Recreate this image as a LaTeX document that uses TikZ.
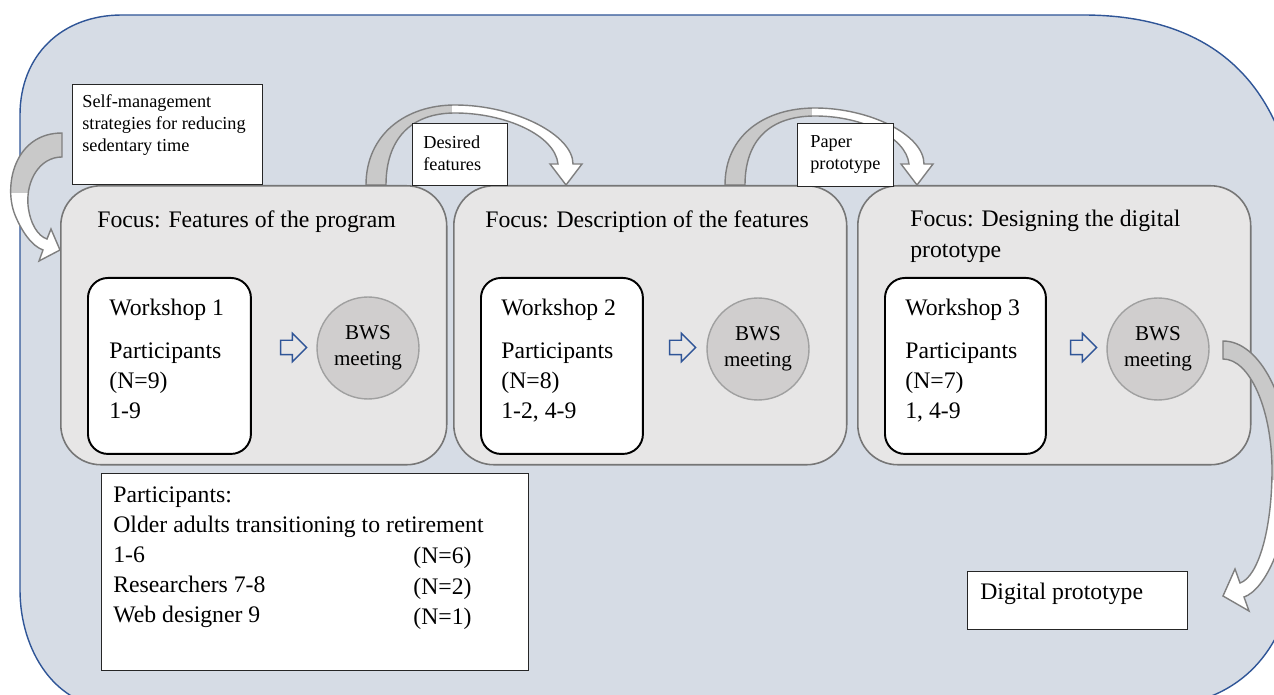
\documentclass[tikz,border=0pt]{standalone}
\usepackage{fontspec}
\setmainfont{Liberation Serif}
\usetikzlibrary{positioning}
\usetikzlibrary{shapes.arrows}
\definecolor{bgblue}{HTML}{D6DCE5}
\definecolor{borderblue}{HTML}{2F5597}
\definecolor{stagefill}{HTML}{E7E6E6}
\definecolor{stageline}{HTML}{767676}
\definecolor{circfill}{HTML}{D0CECE}
\definecolor{circline}{HTML}{A0A0A0}
\definecolor{arrowgray}{HTML}{C9C9C9}
\definecolor{arrowline}{HTML}{7F7F7F}

\begin{document}
\begin{tikzpicture}[x=0.02cm,y=-0.02cm]
		\tikzset{outerbox/.style = {fill=bgblue,draw=borderblue,line width=0.8pt}}
		\tikzset{stagebox/.style = {shape=rectangle,draw=stageline,fill=stagefill,line width=0.9pt,rounded corners=0.8cm,anchor=north west}}
		\tikzset{wsbox/.style = {shape=rectangle,draw=black,fill=white,line width=1.1pt,rounded corners=0.4cm,anchor=north west}}
		\tikzset{notebox/.style = {shape=rectangle,draw=black!85,fill=white,line width=0.7pt,anchor=north west}}
		\tikzset{bws/.style = {shape=circle,draw=circline,fill=circfill,line width=0.8pt,minimum size=2.04cm,inner sep=0pt,align=center,font=\fontsize{12}{14.8}\selectfont}}
		\tikzset{fwd/.style = {shape=single arrow,draw=borderblue,line width=0.8pt,inner xsep=0pt,inner ysep=0.13cm,minimum height=0.52cm,single arrow head extend=0.14cm}}
		\tikzset{txt/.style = {inner sep=0pt,anchor=north west,align=left,font=\fontsize{13.5}{17.2}\selectfont}}
		\tikzset{smalltxt/.style = {inner sep=0pt,anchor=north west,align=left,font=\fontsize{10.4}{12.6}\selectfont}}
		\tikzset{blockarrow/.style = {draw=arrowline,fill=white,line width=0.8pt,line join=miter}}
		\useasboundingbox (0,0) rectangle (1274,695);
		\clip (0,0) rectangle (1274,695);
		% background
		\path[outerbox] (20,590) -- (20,115) .. controls (20,55) and (62,15) .. (122,15) -- (1083,15)
		.. controls (1210,15) and (1290,80) .. (1300,230) -- (1300,520)
		.. controls (1300,640) and (1250,705) .. (1150,708) -- (115,708)
		.. controls (55,708) and (20,650) .. (20,590) -- cycle;
		
		% curved arrows
		\path[blockarrow,path picture={\fill[arrowgray] (0,0) rectangle (80,193);}]
		(62,133) .. controls (15,133) and (3,185) .. (15,215) .. controls (22,232) and (32,246) .. (43,250)
		-- (39,261) -- (60,250) -- (51,229) -- (47,239)
		.. controls (38,236) and (30,224) .. (28,205) .. controls (26,180) and (40,157) .. (62,157) -- cycle;
		\path[blockarrow,path picture={\fill[arrowgray] (300,0) rectangle (452,200);}]
		(366,185) .. controls (366,135) and (405,105) .. (455,105) .. controls (515,105) and (573,135) .. (573,164)
		-- (582,164) -- (566,185) -- (550,164) -- (558,164)
		.. controls (555,135) and (505,113) .. (455,113) .. controls (410,113) and (386,140) .. (386,185) -- cycle;
		\path[blockarrow,path picture={\fill[arrowgray] (700,0) rectangle (812,200);}]
		(725,185) .. controls (725,135) and (765,108) .. (815,108) .. controls (870,108) and (924,135) .. (924,164)
		-- (933,164) -- (917,185) -- (901,164) -- (909,164)
		.. controls (906,137) and (862,116) .. (815,116) .. controls (770,116) and (745,140) .. (745,185) -- cycle;
		
		% stages
		\node[stagebox,minimum width=7.72cm,minimum height=5.58cm] (stage1) at (60,185) {};
		\node[stagebox,minimum width=7.86cm,minimum height=5.58cm] (stage2) at (453,185) {};
		\node[stagebox,minimum width=7.86cm,minimum height=5.58cm] (stage3) at (857,185) {};
		
		\path[blockarrow,path picture={\fill[arrowgray] (1200,300) rectangle (1300,480);}]
		(1223,341) .. controls (1260,341) and (1290,400) .. (1290,470) .. controls (1290,540) and (1265,590) .. (1244,597)
		-- (1249,611) -- (1223,596) -- (1235,569) -- (1240,583)
		.. controls (1258,577) and (1272,530) .. (1272,470) .. controls (1272,410) and (1250,359) .. (1223,359) -- cycle;
		
		% workshops and meetings
		\node[wsbox,minimum width=3.26cm,minimum height=3.52cm] (ws1) at (87,277) {};
		\node[wsbox,minimum width=3.24cm,minimum height=3.52cm] (ws2) at (480,277) {};
		\node[wsbox,minimum width=3.22cm,minimum height=3.52cm] (ws3) at (884,277) {};
		
		\node[fwd] (go1) at (290,347.5) {};
		\node[fwd] (go2) at (679,347.5) {};
		\node[fwd] (go3) at (1080,347.5) {};
		
		\node[bws] (bws1) at (368,348) {BWS\\meeting};
		\node[bws] (bws2) at (758,349) {BWS\\meeting};
		\node[bws] (bws3) at (1158,349) {BWS\\meeting};
		
		% notes
		\node[notebox,minimum width=3.8cm,minimum height=2cm] (selfbox) at (72,84) {};
		\node[notebox,minimum width=1.9cm,minimum height=1.24cm] (desbox) at (412,123) {};
		\node[notebox,minimum width=1.92cm,minimum height=1.26cm] (paperbox) at (797,123) {};
		\node[notebox,minimum width=8.54cm,minimum height=3.94cm] (partbox) at (101,473) {};
		\node[notebox,minimum width=4.4cm,minimum height=1.16cm] (digbox) at (967,571) {};
		
		% texts
		\node[txt] (focus1) at (97,210) {Focus: Features of the program};
		\node[txt] (focus2) at (485,210) {Focus: Description of the features};
		\node[txt] (focus3) at (910,210) {Focus: Designing the digital\\prototype};
		
		\node[txt] (wstext1) at (109,299) {Workshop 1\\[7pt]Participants\\(N=9)\\1-9};
		\node[txt] (wstext2) at (501,299) {Workshop 2\\[7pt]Participants\\(N=8)\\1-2, 4-9};
		\node[txt] (wstext3) at (905,299) {Workshop 3\\[7pt]Participants\\(N=7)\\1, 4-9};
		
		\node[smalltxt] (selftext) at (82,94) {Self-management\\strategies for reducing\\sedentary time};
		\node[smalltxt] (destext) at (423,135) {Desired\\features};
		\node[smalltxt] (papertext) at (810,135) {Paper\\prototype};
		
		\node[txt] (parttext) at (113,486) {Participants:\\Older adults transitioning to retirement\\1-6\\Researchers 7-8\\Web designer 9};
		\node[txt] (partcount) at (413,547) {(N=6)\\(N=2)\\(N=1)};
		\node[txt] (digtext) at (980,583) {Digital prototype};
\end{tikzpicture}
\end{document}
